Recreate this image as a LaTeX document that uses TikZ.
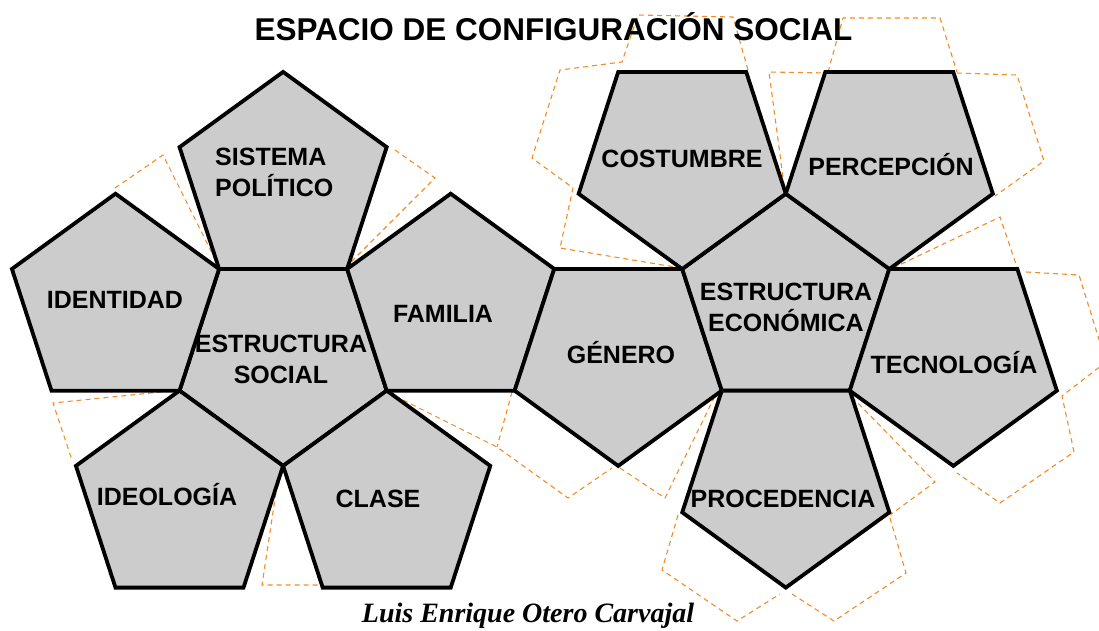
\documentclass[tikz,border=0pt]{standalone}
\usepackage{fontspec}
\setmainfont{Liberation Serif}
\setsansfont{Liberation Sans}
\usetikzlibrary{shapes.geometric}
\definecolor{facegray}{RGB}{204,204,204}
\definecolor{taborange}{RGB}{242,140,40}
\tikzset{
  face/.style={regular polygon, regular polygon sides=5, minimum size=217.8pt,
    inner sep=0pt, outer sep=0pt, draw=black, line width=3.8pt, fill=facegray},
  facedown/.style={face, shape border rotate=180},
  facetext/.style={inner sep=0pt, font=\sffamily\bfseries\fontsize{25}{30.5}\selectfont},
  tab/.style={draw=taborange, line width=1.1pt, dash pattern=on 5pt off 4pt},
}
\begin{document}
\begin{tikzpicture}[x=1pt,y=1pt]
    \useasboundingbox (0,0) rectangle (1099,-630);
    \draw[tab] (115,-188) -- (163,-155) -- (217,-263);
    \draw[tab] (180,-390) -- (53,-403) -- (72,-460);
    \draw[tab] (280,-466) -- (262,-585) -- (318,-585);
    \draw[tab] (387,-392) -- (497,-447) -- (568,-498) -- (612,-468);
    \draw[tab] (512,-392) -- (497,-447);
    \draw[tab] (620,-468) -- (665,-498) -- (714,-398);
    \draw[tab] (852,-397) -- (935,-482) -- (890,-515);
    \draw[tab] (678,-515) -- (662,-570) -- (737,-621) -- (780,-594);
    \draw[tab] (792,-594) -- (834,-621) -- (906,-573) -- (890,-518);
    \draw[tab] (1026,-272) -- (1079,-275) -- (1106,-362) -- (1062,-396) -- (1074,-452) -- (1000,-503) -- (957,-473);
    \draw[tab] (893,-268) -- (1000,-217) -- (1018,-270);
    \draw[tab] (957,-73) -- (1017,-75) -- (1044,-161) -- (995,-196);
    \draw[tab] (828,-72) -- (843,-18) -- (940,-18) -- (957,-72);
    \draw[tab] (830,-73) -- (769,-72) -- (784,-185);
    \draw[tab] (748,-70) -- (733,-17) -- (638,-15) -- (622,-62) -- (560,-70) -- (532,-158) -- (573,-188) -- (560,-248) -- (675,-267);
    \draw[tab] (395,-150) -- (435,-178) -- (350,-263);

    \node[facedown] (es) at (283.1,-357) {};
    \node[face] (sp) at (283.1,-180.8) {};
    \node[face] (id) at (115.5,-302.6) {};
    \node[face] (fa) at (450.7,-302.6) {};
    \node[face] (ig) at (179.5,-499.5) {};
    \node[face] (cl) at (386.7,-499.5) {};
    \node[facedown] (ge) at (618.2,-357) {};
    \node[face] (ee) at (785.8,-302.6) {};
    \node[facedown] (co) at (682.2,-160.1) {};
    \node[facedown] (pe) at (889.3,-160.1) {};
    \node[facedown] (te) at (953.3,-357) {};
    \node[facedown] (pr) at (785.8,-478.7) {};

    \node[facetext, anchor=north west, align=left] (sp-txt) at (215,-148) {SISTEMA\\POLÍTICO};
    \node[facetext, anchor=north, align=center] (es-txt) at (281,-335) {ESTRUCTURA\\SOCIAL};
    \node[facetext, anchor=north, align=center] (ee-txt) at (786,-283) {ESTRUCTURA\\ECONÓMICA};
    \node[facetext, anchor=base] (id-txt) at (115,-308) {IDENTIDAD};
    \node[facetext, anchor=base] (fa-txt) at (443,-322) {FAMILIA};
    \node[facetext, anchor=base] (ge-txt) at (621,-363) {GÉNERO};
    \node[facetext, anchor=base] (te-txt) at (954,-373) {TECNOLOGÍA};
    \node[facetext, anchor=base] (co-txt) at (682,-167) {COSTUMBRE};
    \node[facetext, anchor=base] (pe-txt) at (891,-175) {PERCEPCIÓN};
    \node[facetext, anchor=base] (ig-txt) at (167,-505) {IDEOLOGÍA};
    \node[facetext, anchor=base] (cl-txt) at (378,-507) {CLASE};
    \node[facetext, anchor=base] (pr-txt) at (783,-507) {PROCEDENCIA};

    \node[inner sep=0pt, anchor=base, font=\sffamily\bfseries\fontsize{31.5}{36}\selectfont] (title) at (553.5,-40) {ESPACIO DE CONFIGURACIÓN SOCIAL};
    \node[inner sep=0pt, anchor=base, font=\rmfamily\bfseries\itshape\fontsize{28}{34}\selectfont] (author) at (528,-622) {Luis Enrique Otero Carvajal};
\end{tikzpicture}
\end{document}
